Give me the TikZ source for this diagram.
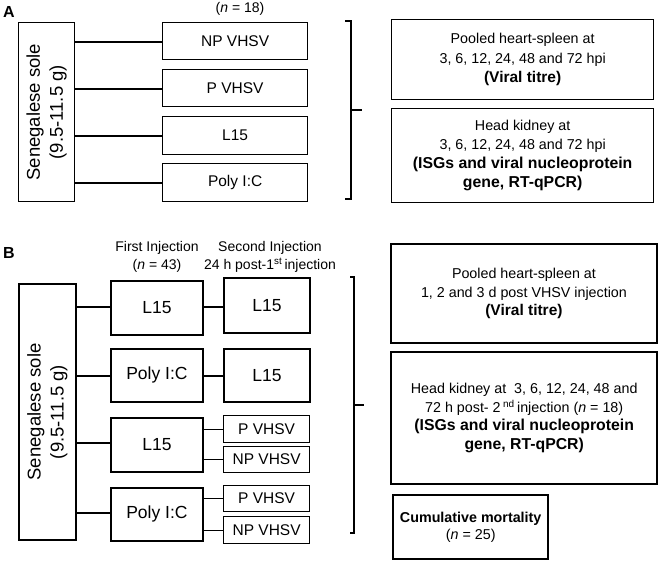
\documentclass[tikz,border=0pt]{standalone}
\usepackage{fontspec}
\setmainfont{Liberation Sans}
\begin{document}
\begin{tikzpicture}[x=1pt,y=-1pt,
  boxA/.style={draw,line width=1.3pt,inner sep=0pt,anchor=north west,align=center},
  boxB/.style={draw,line width=1.9pt,inner sep=0pt,anchor=north west,align=center},
  conn/.style={line width=1.2pt},
  brace/.style={line width=1.2pt},
  lbl/.style={font=\fontsize{16}{18}\selectfont\bfseries}]
\useasboundingbox (0,0) rectangle (659,561);
% ---------- Panel A ----------
\node[lbl] (labA) at (9,12) {A};
\node[font=\fontsize{14}{16}\selectfont] (nA) at (240,8.5) {(\textit{n} = 18)};
\node[boxA,minimum width=56pt,minimum height=179pt] (soleA) at (18,22) {};
\node[rotate=90,align=center,font=\fontsize{18.5}{23}\selectfont] (soleAt) at (soleA.center) {Senegalese sole\\(9.5-11.5 g)};
\node[boxA,minimum width=145pt,minimum height=37pt,font=\fontsize{15.5}{18}\selectfont] (a1) at (162,22) {NP VHSV};
\node[boxA,minimum width=145pt,minimum height=37pt,font=\fontsize{15.5}{18}\selectfont] (a2) at (162,69) {P VHSV};
\node[boxA,minimum width=145pt,minimum height=38pt,font=\fontsize{15.5}{18}\selectfont] (a3) at (162,116) {L15};
\node[boxA,minimum width=145pt,minimum height=38pt,font=\fontsize{15.5}{18}\selectfont] (a4) at (162,163) {Poly I:C};
\coordinate (sa1) at (74,42); \coordinate (sa2) at (74,89);
\coordinate (sa3) at (74,136); \coordinate (sa4) at (74,183);
\draw[conn] (sa1) -- (sa1 -| a1.west);
\draw[conn] (sa2) -- (sa2 -| a2.west);
\draw[conn] (sa3) -- (sa3 -| a3.west);
\draw[conn] (sa4) -- (sa4 -| a4.west);
% brace A
\coordinate (bAt) at (345,21); \coordinate (bAb) at (345,199); \coordinate (bAm) at (362,110);
\draw[brace] (bAt) -- (351,21) -- (351,199) -- (bAb);
\draw[brace] (351,110) -- (bAm);
\node[boxA,minimum width=262pt,minimum height=80pt,font=\fontsize{14.3}{19.5}\selectfont] (ra1) at (391,19)
  {Pooled heart-spleen at\\3, 6, 12, 24, 48 and 72 hpi\\{\fontsize{15.5}{19.5}\selectfont\bfseries (Viral titre)}};
\node[boxA,minimum width=262pt,minimum height=94pt,font=\fontsize{14.3}{19}\selectfont] (ra2) at (391,108)
  {Head kidney at\\3, 6, 12, 24, 48 and 72 hpi\\{\fontsize{15.8}{19.5}\selectfont\bfseries (ISGs and viral nucleoprotein}\\{\fontsize{15.8}{19.5}\selectfont\bfseries gene, RT-qPCR)}};
% ---------- Panel B ----------
\node[lbl] (labB) at (9,253) {B};
\node[align=center,font=\fontsize{14}{18}\selectfont] (hB1) at (157,257) {First Injection\\(\textit{n} = 43)};
\node[align=center,font=\fontsize{14}{18}\selectfont] (hB2) at (270,257) {Second Injection\\24 h post-1\textsuperscript{st}\,injection};
\node[boxB,minimum width=57pt,minimum height=256pt] (soleB) at (18,283) {};
\node[rotate=90,align=center,font=\fontsize{18.5}{23}\selectfont] (soleBt) at (soleB.center) {Senegalese sole\\(9.5-11.5 g)};
\node[boxB,minimum width=92pt,minimum height=54pt,font=\fontsize{17.5}{20}\selectfont] (b1) at (110,280) {L15};
\node[boxB,minimum width=92pt,minimum height=53pt,font=\fontsize{17.5}{20}\selectfont] (b2) at (110,348) {Poly I:C};
\node[boxB,minimum width=92pt,minimum height=54pt,font=\fontsize{17.5}{20}\selectfont] (b3) at (110,417) {L15};
\node[boxB,minimum width=92pt,minimum height=53pt,font=\fontsize{17.5}{20}\selectfont] (b4) at (110,487) {Poly I:C};
\node[boxB,minimum width=86pt,minimum height=55pt,font=\fontsize{17.5}{20}\selectfont] (c1) at (223,277) {L15};
\node[boxB,minimum width=86pt,minimum height=53pt,font=\fontsize{17.5}{20}\selectfont] (c2) at (223,348) {L15};
\node[boxA,minimum width=86pt,minimum height=27pt,font=\fontsize{15.5}{18}\selectfont] (c3) at (223,415) {P VHSV};
\node[boxA,minimum width=86pt,minimum height=26pt,font=\fontsize{15.5}{18}\selectfont] (c4) at (223,446) {NP VHSV};
\node[boxA,minimum width=86pt,minimum height=26pt,font=\fontsize{15.5}{18}\selectfont] (c5) at (223,485) {P VHSV};
\node[boxA,minimum width=86pt,minimum height=27pt,font=\fontsize{15.5}{18}\selectfont] (c6) at (223,516) {NP VHSV};
\coordinate (sb1) at (75,307); \coordinate (sb2) at (75,376);
\coordinate (sb3) at (75,443); \coordinate (sb4) at (75,513);
\draw[conn] (sb1) -- (sb1 -| b1.west);
\draw[conn] (sb2) -- (sb2 -| b2.west);
\draw[conn] (sb3) -- (sb3 -| b3.west);
\draw[conn] (sb4) -- (sb4 -| b4.west);
\draw[conn] (b1.east |- 0,307) -- (c1.west |- 0,307);
\draw[conn] (b2.east |- 0,376) -- (c2.west |- 0,376);
\draw[conn] (b3.east |- c3.west) -- (c3.west);
\draw[conn] (b3.east |- c4.west) -- (c4.west);
\draw[conn] (b4.east |- c5.west) -- (c5.west);
\draw[conn] (b4.east |- c6.west) -- (c6.west);
% brace B
\coordinate (bBt) at (350,277); \coordinate (bBb) at (350,533); \coordinate (bBm) at (364,405);
\draw[brace] (bBt) -- (354,277) -- (354,533) -- (bBb);
\draw[brace] (354,405) -- (bBm);
\node[boxB,minimum width=266pt,minimum height=99pt,font=\fontsize{14.3}{18.5}\selectfont] (rb1) at (390,243)
  {Pooled heart-spleen at\\1, 2 and 3 d post VHSV injection\\{\fontsize{15.5}{18.5}\selectfont\bfseries (Viral titre)}};
\node[boxB,line width=2.4pt,minimum width=266pt,minimum height=132pt,font=\fontsize{14.3}{18.5}\selectfont] (rb2) at (390,351)
  {Head kidney at\ \ 3, 6, 12, 24, 48 and\\72 h post- 2\,\textsuperscript{nd}\,injection (\textit{n} = 18)\\{\fontsize{15.8}{18.5}\selectfont\bfseries (ISGs and viral nucleoprotein}\\{\fontsize{15.8}{18.5}\selectfont\bfseries gene, RT-qPCR)}};
\node[boxB,line width=2.4pt,minimum width=155pt,minimum height=64pt,font=\fontsize{14.3}{17}\selectfont] (rb3) at (392,494)
  {{\bfseries Cumulative mortality}\\(\textit{n} = 25)};
\end{tikzpicture}
\end{document}
